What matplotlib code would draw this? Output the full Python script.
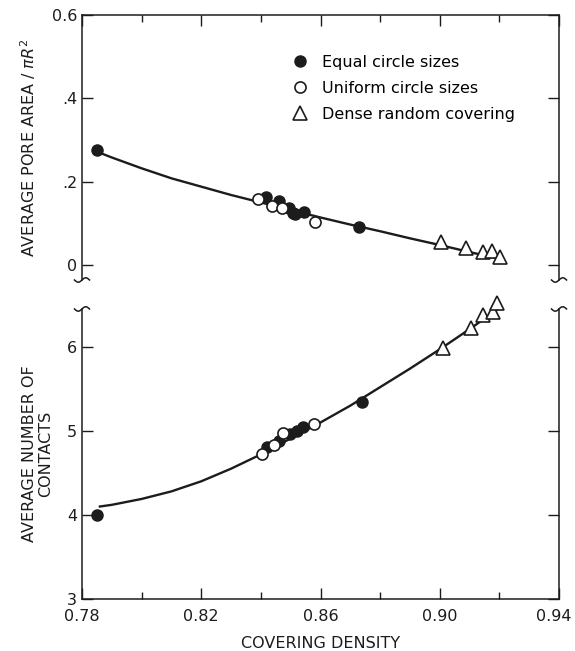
import numpy as np
import matplotlib
matplotlib.use("Agg")
import matplotlib.pyplot as plt
from matplotlib.ticker import FixedLocator, FixedFormatter, MultipleLocator
from matplotlib.transforms import ScaledTranslation

# covering density / pore area / contacts for the three kinds of packings
equal_x = [0.7849, 0.8416, 0.8461, 0.8495, 0.8509, 0.8514, 0.8545, 0.8730]
equal_pore = [0.275, 0.162, 0.154, 0.1375, 0.1255, 0.122, 0.128, 0.0905]

uniform_x = [0.8391, 0.8438, 0.8470, 0.8582]
uniform_pore = [0.158, 0.142, 0.136, 0.104]

dense_x = [0.9004, 0.9087, 0.9144, 0.9176, 0.9202]
dense_pore = [0.0545, 0.0415, 0.032, 0.0336, 0.0185]

equal_cx = [0.7851, 0.8422, 0.8462, 0.8498, 0.8520, 0.8540, 0.8738]
equal_contacts = [4.00, 4.81, 4.88, 4.96, 5.00, 5.04, 5.34]

uniform_cx = [0.8403, 0.8445, 0.8473, 0.8579]
uniform_contacts = [4.73, 4.83, 4.97, 5.08]

dense_cx = [0.9012, 0.9104, 0.9146, 0.9178, 0.9191]
dense_contacts = [5.99, 6.22, 6.38, 6.41, 6.52]

# fitted curves
pore_fit_x = [0.785, 0.79, 0.80, 0.81, 0.82, 0.83, 0.84, 0.85, 0.86,
              0.87, 0.88, 0.89, 0.90, 0.91, 0.92]
pore_fit_y = [0.272, 0.258, 0.232, 0.208, 0.188, 0.168, 0.150, 0.132, 0.114,
              0.097, 0.081, 0.064, 0.048, 0.031, 0.015]
contact_fit_x = [0.786, 0.79, 0.80, 0.81, 0.82, 0.83, 0.84, 0.85, 0.86,
                 0.87, 0.88, 0.89, 0.90, 0.91, 0.92]
contact_fit_y = [4.10, 4.12, 4.19, 4.28, 4.40, 4.55, 4.72, 4.91, 5.10,
                 5.30, 5.52, 5.74, 5.97, 6.21, 6.46]

x_ticks = [0.78, 0.82, 0.86, 0.90, 0.94]
x_ticklabels = ["0.78", "0.82", "0.86", "0.90", "0.94"]
pore_ticks = [0.0, 0.2, 0.4, 0.6]
pore_ticklabels = ["0", ".2", ".4", "0.6"]
contact_ticks = [3, 4, 5, 6]

plt.rcParams["font.family"] = "DejaVu Sans"
ink = "#1c1c1c"

fig = plt.figure(figsize=(5.75, 6.51), dpi=100)
ax1 = fig.add_axes([0.1426, 0.5699, 0.8296, 0.4071])
ax2 = fig.add_axes([0.1426, 0.0799, 0.8296, 0.4455])

mk = dict(linestyle="none", clip_on=False, zorder=3)
ax1.plot(pore_fit_x, pore_fit_y, color=ink, lw=1.7, zorder=2)
ax1.plot(equal_x, equal_pore, marker="o", ms=8, mfc=ink, mec=ink,
         label="Equal circle sizes", **mk)
ax1.plot(uniform_x, uniform_pore, marker="o", ms=8, mfc="white", mec=ink,
         mew=1.2, label="Uniform circle sizes", **mk)
ax1.plot(dense_x, dense_pore, marker="^", ms=10, mfc="white", mec=ink,
         mew=1.2, label="Dense random covering", **mk)

ax2.plot(contact_fit_x, contact_fit_y, color=ink, lw=1.7, zorder=2)
ax2.plot(equal_cx, equal_contacts, marker="o", ms=8, mfc=ink, mec=ink, **mk)
ax2.plot(uniform_cx, uniform_contacts, marker="o", ms=8, mfc="white",
         mec=ink, mew=1.2, **mk)
ax2.plot(dense_cx, dense_contacts, marker="^", ms=10, mfc="white", mec=ink,
         mew=1.2, **mk)

for ax in (ax1, ax2):
    ax.set_xlim(0.78, 0.94)
    ax.xaxis.set_major_locator(FixedLocator(x_ticks))
    ax.xaxis.set_minor_locator(MultipleLocator(0.02))
    for s in ax.spines.values():
        s.set_linewidth(1.1)
        s.set_color(ink)
    ax.tick_params(which="both", direction="in", color=ink, width=1.0,
                   labelsize=11.5, labelcolor=ink, right=True)
    ax.tick_params(which="major", length=8)
    ax.tick_params(which="minor", length=5)

ax1.set_ylim(-0.036, 0.6)
ax1.spines["bottom"].set_visible(False)
ax1.tick_params(axis="x", which="both", bottom=False, top=True,
                labelbottom=False)
ax1.yaxis.set_major_locator(FixedLocator(pore_ticks))
ax1.yaxis.set_major_formatter(FixedFormatter(pore_ticklabels))
ax1.set_ylabel("AVERAGE PORE AREA / $\\pi R^2$", fontsize=11.5, color=ink,
               labelpad=10)

ax2.set_ylim(3, 6.45)
ax2.spines["top"].set_visible(False)
ax2.tick_params(axis="x", which="both", top=False, pad=7)
ax2.xaxis.set_major_formatter(FixedFormatter(x_ticklabels))
ax2.yaxis.set_major_locator(FixedLocator(contact_ticks))
ax2.set_ylabel("AVERAGE NUMBER OF\nCONTACTS", fontsize=11.5, color=ink,
               labelpad=10, linespacing=1.1)
ax2.set_xlabel("COVERING DENSITY", fontsize=11.5, color=ink, labelpad=9)

# keep the last x label inside the canvas
last = ax2.get_xticklabels()[-1]
last.set_transform(last.get_transform()
                   + ScaledTranslation(-4 / 72, 0, fig.dpi_scale_trans))

# small wavy break marks where the side spines are cut
t = np.linspace(-1, 1, 30)
wave_x = 0.075 * t
wave_y = 0.022 * np.sin(np.pi * t)
for ax, yb in ((ax1, 0.0), (ax2, 1.0)):
    for xb in (0.0, 1.0):
        tr = fig.dpi_scale_trans + ScaledTranslation(xb, yb, ax.transAxes)
        ax.plot(wave_x, wave_y, color=ink, lw=1.1, transform=tr,
                clip_on=False)

ax1.legend(loc="upper left", bbox_to_anchor=(0.41, 0.905), frameon=False,
           fontsize=11.5, handlelength=1.0, handletextpad=0.9,
           labelspacing=0.7, numpoints=1)

fig.savefig("out.png", dpi=100, facecolor="white")
